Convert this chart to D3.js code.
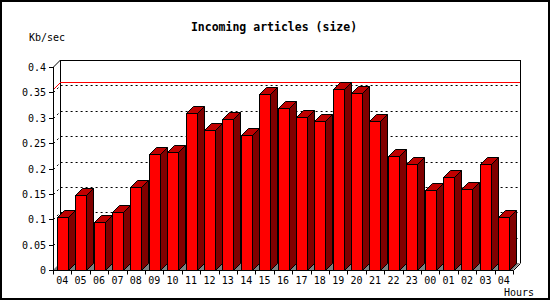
<!DOCTYPE html>
<html>
<head>
<meta charset="utf-8">
<script src="https://cdn.jsdelivr.net/npm/d3@7"></script>
<style>
  body { margin: 0; background: #fff; }
  text { font-family: "DejaVu Sans Mono", monospace; fill: #000; }
</style>
</head>
<body>
<svg id="chart"></svg>
<script>
// hours along the x axis and the incoming size per hour (Kb/sec)
const hours = ["04", "05", "06", "07", "08", "09", "10", "11", "12", "13", "14", "15", "16",
               "17", "18", "19", "20", "21", "22", "23", "00", "01", "02", "03", "04"];
const sizes = [0.104, 0.147, 0.095, 0.114, 0.164, 0.228, 0.232, 0.310, 0.275, 0.297, 0.266, 0.346, 0.320,
               0.301, 0.293, 0.356, 0.349, 0.293, 0.225, 0.208, 0.157, 0.183, 0.159, 0.208, 0.104];
const yTicks = [0, 0.05, 0.1, 0.15, 0.2, 0.25, 0.3, 0.35, 0.4];
const gridValues = [0.05, 0.1, 0.15, 0.2, 0.25, 0.3, 0.35];

const W = 550, H = 300;
const depth = 7;          // 3d offset, right and up
const barW = 11;

const svg = d3.select('#chart').attr('width', W).attr('height', H);

// outer frame
svg.append('rect')
    .attr('x', 1).attr('y', 1).attr('width', W - 2).attr('height', H - 2)
    .attr('fill', '#fff').attr('stroke', '#000').attr('stroke-width', 2);

const x = d3.scaleBand()
    .domain(d3.range(hours.length))
    .range([53, 513]);

const y = d3.scaleLinear()
    .domain([0, 0.4])
    .range([270, 67]);

const line = (x1, y1, x2, y2, color) => svg.append('line')
    .attr('x1', x1).attr('y1', y1).attr('x2', x2).attr('y2', y2)
    .attr('stroke', color || '#000').attr('stroke-width', 1);

// floor of the 3d box
svg.append('polygon')
    .attr('points', [[53, y(0)], [513, y(0)], [513 + depth, y(0) - depth], [53 + depth, y(0) - depth]].join(' '))
    .attr('fill', '#808080');

// back wall frame
line(60.5, y(0.4) - depth + 0.5, 520.5, y(0.4) - depth + 0.5);
line(60.5, y(0.4) - depth, 60.5, y(0) - depth);
line(520.5, y(0.4) - depth, 520.5, y(0) - depth);

// dotted grid on the back wall, with the little diagonal on the side
gridValues.forEach(v => {
    const yy = Math.round(y(v)) + 0.5;
    svg.append('path')
        .attr('d', `M53.5,${yy}L${60.5},${yy - depth}H520`)
        .attr('fill', 'none').attr('stroke', '#000')
        .attr('stroke-dasharray', '2,3');
});

// max level in red
const maxV = d3.max(sizes);
const ym = Math.round(y(maxV)) + 0.5;
svg.append('path')
    .attr('d', `M53.5,${ym}L60.5,${ym - depth}H520`)
    .attr('fill', 'none').attr('stroke', '#ff0000');

// bars
const bars = svg.append('g').selectAll('g')
    .data(sizes)
    .join('g');

bars.each(function(d, i) {
    const g = d3.select(this);
    const bx = Math.round(x(i) + (x.bandwidth() - barW) / 2) + 0.5;
    const top = Math.round(y(d)) + 0.5;
    const base = y(0) + 0.5;
    // side
    g.append('polygon')
        .attr('points', [[bx + barW, top], [bx + barW + depth, top - depth],
                         [bx + barW + depth, base - depth], [bx + barW, base]].join(' '))
        .attr('fill', '#800000').attr('stroke', '#000');
    // top
    g.append('polygon')
        .attr('points', [[bx, top], [bx + depth, top - depth],
                         [bx + barW + depth, top - depth], [bx + barW, top]].join(' '))
        .attr('fill', '#c00000').attr('stroke', '#000');
    // front
    g.append('rect')
        .attr('x', bx).attr('y', top)
        .attr('width', barW).attr('height', base - top)
        .attr('fill', '#ff0000').attr('stroke', '#000');
});

// front axes
line(53.5, y(0.4), 53.5, y(0) + 0.5);
line(53.5, y(0.4), 60.5, y(0.4) - depth);
line(53, y(0) + 0.5, 513.5, y(0) + 0.5);
line(513.5, y(0) + 0.5, 520.5, y(0) - depth + 0.5);

// y ticks and labels
yTicks.forEach(v => {
    const yy = Math.round(y(v)) + 0.5;
    line(49, yy, 53.5, yy);
    svg.append('text')
        .attr('x', 46).attr('y', yy + 3.5)
        .attr('text-anchor', 'end')
        .style('font-size', '10px')
        .text(v === 0 ? '0' : String(v));
});

// x ticks and labels
d3.range(hours.length + 1).forEach(i => {
    const xx = Math.round(53 + i * x.step()) + 0.5;
    line(xx, y(0) + 0.5, xx, y(0) + 4.5);
});
hours.forEach((h, i) => {
    svg.append('text')
        .attr('x', x(i) + x.bandwidth() / 2)
        .attr('y', 283.5)
        .attr('text-anchor', 'middle')
        .style('font-size', '10px')
        .text(h);
});

// titles
svg.append('text')
    .attr('x', 274).attr('y', 30.5)
    .attr('text-anchor', 'middle')
    .style('font-size', '11.5px').style('font-weight', 'bold')
    .text('Incoming articles (size)');

svg.append('text')
    .attr('x', 29).attr('y', 40.5)
    .style('font-size', '10px')
    .text('Kb/sec');

svg.append('text')
    .attr('x', 504).attr('y', 296)
    .style('font-size', '10px')
    .text('Hours');
</script>
</body>
</html>
